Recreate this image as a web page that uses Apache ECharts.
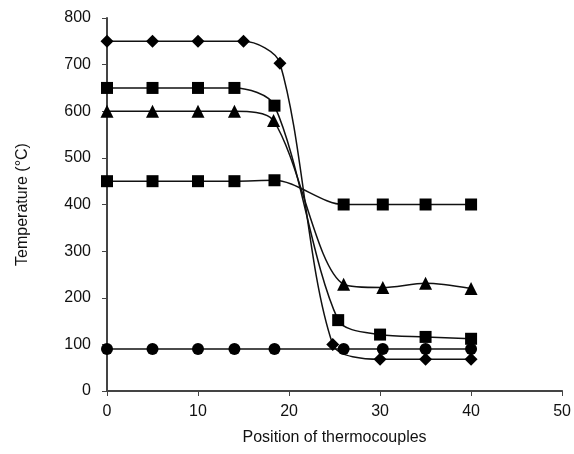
<!DOCTYPE html>
<html>
<head>
<meta charset="utf-8">
<script src="https://cdn.jsdelivr.net/npm/echarts@6/dist/echarts.min.js"></script>
<style>
  html, body { margin: 0; padding: 0; background: #fff; }
  #chart { width: 574px; height: 454px; }
</style>
</head>
<body>
<div id="chart"></div>
<script>
// values
const diamondX = [0, 5, 10, 15, 19, 24.8, 30, 35, 40];
const diamondY = [750, 750, 750, 750, 703, 100, 68, 68, 68];
const squareHiX = [0, 5, 10, 14, 18.4, 25.4, 30, 35, 40];
const squareHiY = [650, 650, 650, 650, 612, 152, 121, 116, 112];
const triangleX = [0, 5, 10, 14, 18.3, 26, 30.3, 35, 40];
const triangleY = [600, 600, 600, 600, 580, 229, 222, 231, 220];
const squareMidX = [0, 5, 10, 14, 18.4, 26, 30.3, 35, 40];
const squareMidY = [450, 450, 450, 450, 452, 400, 400, 400, 400];
const circleX = [0, 5, 10, 14, 18.4, 26, 30.3, 35, 40];
const circleY = [90, 90, 90, 90, 90, 90, 90, 90, 90];

const pairs = (xs, ys) => xs.map((x, i) => [x, ys[i]]);

const chart = echarts.init(document.getElementById("chart"));

const mkSeries = (xs, ys, symbol, size) => ({
  type: "line",
  data: pairs(xs, ys),
  smooth: 0.3,
  symbol: symbol,
  symbolSize: size,
  showAllSymbol: true,
  clip: false,
  lineStyle: { color: "#111", width: 1.5 },
  itemStyle: { color: "#000", borderWidth: 0 },
  emphasis: { disabled: true },
  z: 3,
});

const axisText = {
  color: "#111",
  fontFamily: "Liberation Sans, Arial, sans-serif",
  fontSize: 16,
};

chart.setOption({
  animation: false,
  backgroundColor: "#fff",
  grid: { left: 107, right: 11, top: 18, bottom: 63 },
  xAxis: {
    type: "value",
    min: 0,
    max: 50,
    interval: 10,
    name: "Position of thermocouples",
    nameLocation: "middle",
    nameGap: 39,
    nameTextStyle: { ...axisText, fontSize: 16 },
    axisLine: { lineStyle: { color: "#444", width: 2 } },
    axisTick: { show: true, length: 5, lineStyle: { color: "#444", width: 1 } },
    axisLabel: { ...axisText, margin: 13 },
    splitLine: { show: false },
  },
  yAxis: {
    type: "value",
    min: 0,
    max: 800,
    interval: 100,
    name: "Temperature (°C)",
    nameLocation: "middle",
    nameGap: 76,
    nameRotate: 90,
    nameTextStyle: { ...axisText, fontSize: 16 },
    axisLine: { show: true, lineStyle: { color: "#444", width: 2 } },
    axisTick: { show: true, length: 5, lineStyle: { color: "#444", width: 1 } },
    axisLabel: { ...axisText, margin: 16 },
    splitLine: { show: false },
  },
  series: [
    mkSeries(diamondX, diamondY, "diamond", 13),
    mkSeries(squareHiX, squareHiY, "rect", 12),
    mkSeries(triangleX, triangleY, "triangle", 13),
    mkSeries(squareMidX, squareMidY, "rect", 12),
    mkSeries(circleX, circleY, "circle", 12),
  ],
});
</script>
</body>
</html>
